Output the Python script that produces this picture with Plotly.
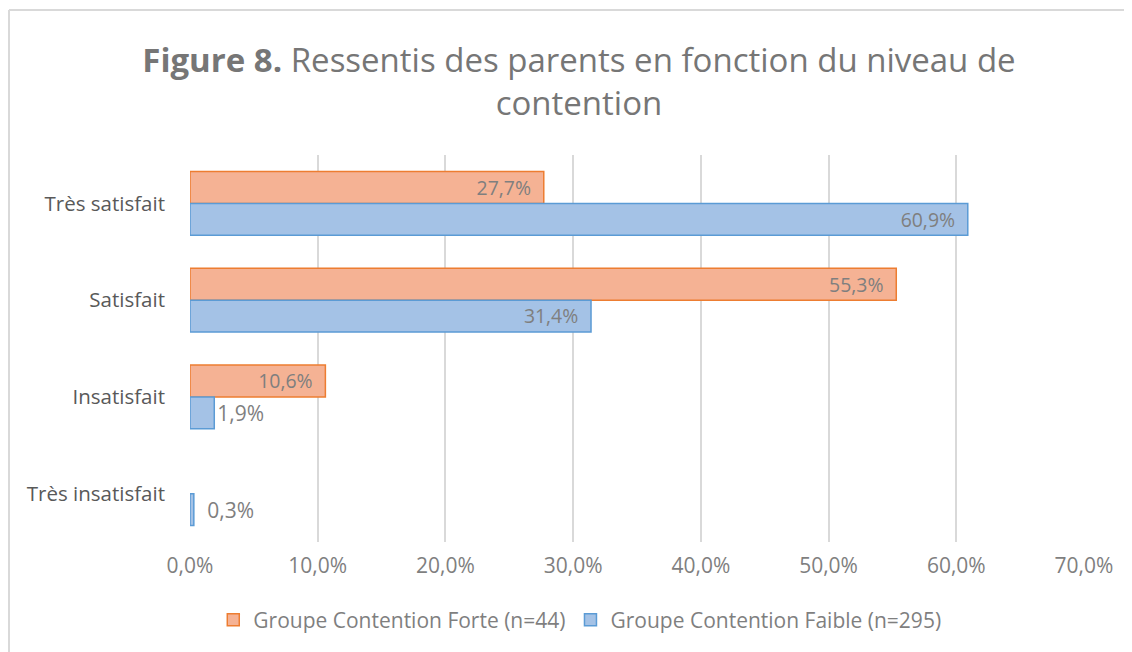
# Ressentis des parents selon le niveau de contention (Figure 8)
import plotly.graph_objects as go

categories = ["Très satisfait", "Satisfait", "Insatisfait", "Très insatisfait"]
forte = [27.7, 55.3, 10.6, None]      # Groupe Contention Forte (n=44)
faible = [60.9, 31.4, 1.9, 0.3]       # Groupe Contention Faible (n=295)
tick_vals = [0, 10, 20, 30, 40, 50, 60, 70]

PAD = "\u2002"  # a bit of room between label and bar end, as in Excel


def fmt(v):
    if v is None:
        return ""
    s = f"{v:.1f}".replace(".", ",") + "%"
    return PAD + s if v < 1 else s + PAD


def pos(v):
    # small bars get their label outside
    return "outside" if v is not None and v < 5 else "inside"


FONT = "Open Sans"
GREY = "#7F7F7F"

fig = go.Figure()
fig.add_trace(go.Bar(
    y=categories, x=forte, orientation="h",
    name="Groupe Contention Forte (n=44)",
    marker=dict(color="#F5B294", line=dict(color="#ED7D31", width=1.5)),
    text=[fmt(v) for v in forte], textposition=[pos(v) for v in forte],
    insidetextanchor="end", textfont=dict(family=FONT, size=21, color=GREY),
    hoverinfo="x+y",
))
fig.add_trace(go.Bar(
    y=categories, x=faible, orientation="h",
    name="Groupe Contention Faible (n=295)",
    marker=dict(color="#A4C2E6", line=dict(color="#5B9BD5", width=1.5)),
    text=[fmt(v) for v in faible], textposition=[pos(v) for v in faible],
    insidetextanchor="end", textfont=dict(family=FONT, size=21, color=GREY),
    hoverinfo="x+y",
))

# page has an 8px body margin, so the figure is 8px smaller than the window
W, H = 1124, 644
L, R, T, B = 182, 48, 147, 110
pw, ph = W - L - R, H - T - B

fig.update_layout(
    width=W, height=H,
    margin=dict(l=L, r=R, t=T, b=B),
    paper_bgcolor="white", plot_bgcolor="white",
    font=dict(family=FONT, color=GREY),
    barmode="group", bargap=0.34, bargroupgap=0,
    title=dict(
        text="<b>Figure 8.</b> Ressentis des parents en fonction du niveau de<br>contention",
        x=0.508, xanchor="center", y=1 - 64 / H, yanchor="middle",
        font=dict(family=FONT, size=33, color="#767676"),
    ),
    xaxis=dict(
        range=[0, 70], tickvals=tick_vals,
        ticktext=[f"{v:.1f}".replace(".", ",") + "%" for v in tick_vals],
        showgrid=True, gridcolor="#D9D9D9", gridwidth=1.5, zeroline=False,
        showline=False, ticks="", ticklabelstandoff=9,
        tickfont=dict(family=FONT, size=21, color=GREY),
    ),
    yaxis=dict(
        autorange="reversed", showgrid=False, zeroline=False, showline=False,
        ticks="", ticklabelstandoff=24,
        tickfont=dict(family=FONT, size=20.5, color="#595959"),
    ),
    legend=dict(
        orientation="h", x=0.436, xanchor="center",
        y=(ph - (612 - T)) / ph, yanchor="middle",
        font=dict(family=FONT, size=21, color=GREY), traceorder="normal",
    ),
    shapes=[
        dict(type="line", xref="paper", yref="paper",
             x0=(1 - L) / pw, x1=1.2, y0=(H - B - 2) / ph, y1=(H - B - 2) / ph,
             line=dict(color="#D9D9D9", width=2)),
        dict(type="line", xref="paper", yref="paper",
             x0=(1 - L) / pw, x1=(1 - L) / pw, y0=-0.5, y1=(H - B - 2) / ph,
             line=dict(color="#D9D9D9", width=2)),
    ],
    showlegend=True,
)

fig.write_html("out.html")
